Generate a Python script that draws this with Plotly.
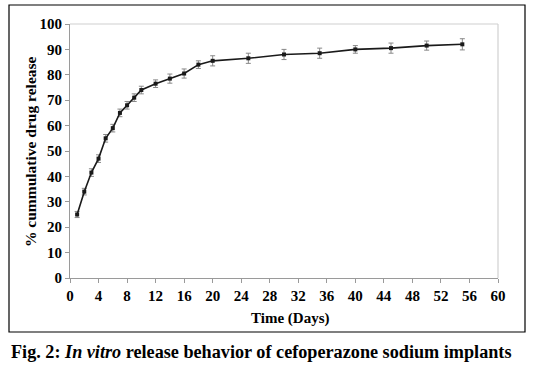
import plotly.graph_objects as go

days = [1, 2, 3, 4, 5, 6, 7, 8, 9, 10, 12, 14, 16, 18, 20, 25, 30, 35, 40, 45, 50, 55]
release = [25, 34, 41.5, 47, 55, 59, 65, 68, 71, 74, 76.5, 78.5, 80.5, 84, 85.5, 86.5, 88, 88.5, 90, 90.5, 91.5, 92]
sd = [1.2, 1.3, 1.5, 1.5, 1.5, 1.5, 1.5, 1.5, 1.5, 1.5, 1.5, 1.8, 1.8, 1.5, 2.0, 2.0, 2.0, 2.0, 1.5, 2.0, 1.8, 2.2]
x_ticks = list(range(0, 61, 4))
y_ticks = list(range(0, 101, 10))

W, H = 536, 379
L, R, T, B = 70, 38, 24, 101
pw, ph = W - L - R, H - T - B

def px(x):
    return (x - L) / pw

def py(y):
    return (H - B - y) / ph

serif = "Liberation Serif"

fig = go.Figure()
fig.add_trace(go.Scatter(
    x=days, y=release,
    mode="lines+markers",
    line=dict(color="#1a1a1a", width=1.6),
    marker=dict(color="#1a1a1a", size=4, symbol="square"),
    error_y=dict(type="data", array=sd, visible=True, color="#888888", thickness=1, width=2.5),
    showlegend=False,
))

axis_common = dict(
    showgrid=False, zeroline=False, showline=True, linecolor="#9a9a9a", linewidth=1.2,
    ticks="outside", tickcolor="#9a9a9a", ticklen=4, mirror=False,
    tickfont=dict(family=serif, size=15, color="black", weight="bold"),
)
fig.update_xaxes(range=[0, 60], tickvals=x_ticks, ticktext=[str(t) for t in x_ticks], **axis_common)
fig.update_yaxes(range=[0, 100], tickvals=y_ticks, ticktext=[str(t) for t in y_ticks], **axis_common)

shapes = [
    dict(type="line", xref="paper", yref="paper", x0=0, x1=1, y0=1, y1=1, line=dict(color="#d0d0d0", width=1.2)),
    dict(type="line", xref="paper", yref="paper", x0=1, x1=1, y0=0, y1=1, line=dict(color="#d0d0d0", width=1.2)),
    dict(type="rect", xref="paper", yref="paper", x0=px(9), x1=px(525), y0=py(332), y1=py(5),
         line=dict(color="black", width=1.2)),
]

annotations = [
    dict(text="<b>% cummulative drug release</b>", xref="paper", yref="paper", x=px(30), y=py(152),
         textangle=-90, showarrow=False, font=dict(family=serif, size=15.5, color="black"),
         xanchor="center", yanchor="middle"),
    dict(text="<b>Time (Days)</b>", xref="paper", yref="paper", x=px(290), y=py(318),
         showarrow=False, font=dict(family=serif, size=15, color="black"),
         xanchor="center", yanchor="middle"),
    dict(text="<b>Fig. 2: <i>In vitro</i> release behavior of cefoperazone sodium implants</b>",
         xref="paper", yref="paper", x=px(9), y=py(352), showarrow=False,
         font=dict(family=serif, size=18.2, color="black"), xanchor="left", yanchor="middle"),
]

fig.update_layout(
    width=W, height=H,
    margin=dict(l=L, r=R, t=T, b=B, pad=0),
    paper_bgcolor="white", plot_bgcolor="white",
    shapes=shapes, annotations=annotations,
)

fig.write_html("out.html", config={"displayModeBar": False},
               post_script="document.body.style.margin='0';")
